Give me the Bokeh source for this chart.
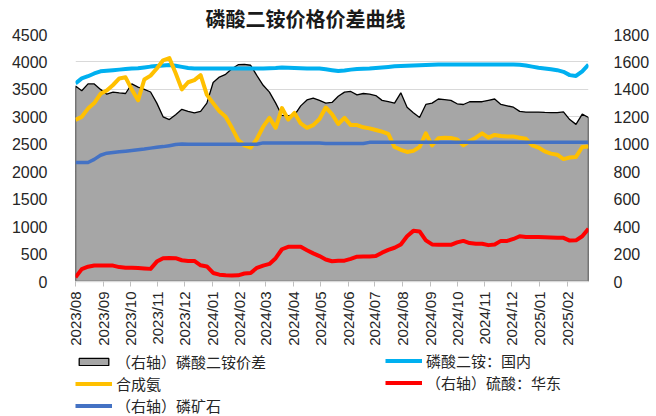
import math
import pandas as pd
from bokeh.plotting import figure
from bokeh.layouts import column
from bokeh.models import Range1d, LinearAxis, FixedTicker, Legend, LegendItem
from bokeh.embed import file_html
from bokeh.resources import INLINE

# ---------------- data ----------------
start_date = pd.Timestamp("2023-08-01")
week_dates = pd.date_range(start_date, periods=83, freq="7D")
month_starts = pd.date_range("2023-08-01", "2025-02-01", freq="MS")
month_labels = [d.strftime("%Y/%m") for d in month_starts]

left_ticks = [0, 500, 1000, 1500, 2000, 2500, 3000, 3500, 4000, 4500]
right_ticks = [0, 200, 400, 600, 800, 1000, 1200, 1400, 1600, 1800]

# 磷酸二铵：国内 (left axis)
dap_domestic = [3610, 3700, 3740, 3790, 3830, 3840, 3850, 3860, 3870, 3880,
                3885, 3900, 3915, 3925, 3935, 3945, 3930, 3910, 3890, 3880,
                3880, 3880, 3880, 3880, 3880, 3880, 3880, 3880, 3880, 3880,
                3880, 3885, 3890, 3900, 3895, 3890, 3885, 3880, 3880, 3880,
                3865, 3850, 3836, 3845, 3860, 3870, 3875, 3880, 3890, 3900,
                3910, 3920, 3925, 3930, 3935, 3940, 3945, 3950, 3955, 3955,
                3955, 3955, 3955, 3955, 3955, 3955, 3955, 3955, 3955, 3955,
                3955, 3950, 3935, 3915, 3895, 3880, 3865, 3850, 3820, 3760,
                3745, 3830, 3950]

# 合成氨 (left axis)
ammonia = [2945, 3000, 3150, 3250, 3420, 3480, 3580, 3700, 3720, 3500,
           3300, 3680, 3750, 3880, 4030, 4070, 3800, 3500, 3630, 3670,
           3760, 3400, 3250, 3100, 3000, 2800, 2580, 2480, 2440, 2600,
           2820, 2980, 2800, 3160, 2950, 3070, 2880, 2800, 2850, 2960,
           3170, 3050, 2870, 2980, 2850, 2850, 2810, 2790, 2760, 2730,
           2690, 2450, 2400, 2360, 2380, 2450, 2700, 2480, 2610, 2620,
           2615, 2590, 2480, 2560, 2620, 2700, 2620, 2670, 2650, 2640,
           2640, 2620, 2600, 2480, 2440, 2370, 2330, 2310, 2230, 2260,
           2270, 2450, 2460]

# （右轴）磷酸二铵价差 (right axis)
dap_spread = [1425, 1390, 1440, 1440, 1400, 1365, 1380, 1374, 1370, 1440,
              1417, 1400, 1381, 1300, 1200, 1180, 1215, 1255, 1240, 1229,
              1240, 1300, 1450, 1490, 1510, 1550, 1580, 1583, 1576, 1500,
              1430, 1380, 1300, 1210, 1208, 1212, 1280, 1323, 1337, 1320,
              1300, 1305, 1350, 1380, 1385, 1360, 1370, 1365, 1355, 1320,
              1310, 1300, 1375, 1270, 1230, 1195, 1290, 1300, 1330, 1325,
              1320, 1295, 1290, 1310, 1310, 1310, 1320, 1330, 1290, 1280,
              1270, 1240, 1235, 1235, 1235, 1232, 1230, 1230, 1236, 1180,
              1145, 1220, 1195]

# （右轴）硫酸：华东 (right axis)
sulfuric_acid = [30, 90, 108, 116, 116, 116, 116, 105, 100, 100,
                 98, 95, 92, 145, 170, 172, 170, 155, 150, 150,
                 118, 110, 62, 50, 45, 43, 45, 58, 62, 100,
                 116, 128, 170, 235, 253, 253, 253, 228, 205, 185,
                 160, 148, 152, 152, 165, 181, 182, 183, 185, 210,
                 230, 246, 270, 330, 369, 365, 300, 270, 267, 267,
                 267, 285, 296, 280, 275, 275, 265, 270, 296, 296,
                 310, 330, 325, 325, 325, 322, 320, 318, 318, 298,
                 300, 330, 385]

# （右轴）磷矿石 (right axis)
phosphate_rock = [867, 867, 867, 890, 920, 935, 940, 945, 950, 955,
                  960, 965, 972, 978, 983, 990, 998, 1002, 1000, 1000,
                  1000, 1000, 1000, 1000, 1000, 1000, 1000, 1000, 1000, 1000,
                  1010, 1010, 1010, 1010, 1010, 1010, 1010, 1010, 1010, 1010,
                  1005, 1005, 1005, 1005, 1005, 1005, 1005, 1014, 1014, 1014,
                  1014, 1014, 1014, 1014, 1014, 1014, 1014, 1014, 1014, 1014,
                  1014, 1014, 1014, 1014, 1014, 1014, 1014, 1014, 1014, 1014,
                  1014, 1014, 1014, 1014, 1014, 1014, 1014, 1014, 1014, 1014,
                  1014, 1014, 1014]

legend_labels = ["（右轴）磷酸二铵价差", "合成氨", "（右轴）磷矿石",
                 "磷酸二铵：国内", "（右轴）硫酸：华东"]

# ---------------- style ----------------
CJK = "Noto Sans CJK SC"
NUM = "Liberation Sans"
TXT = "#262626"
C_SPREAD, C_DAP, C_NH3, C_H2SO4, C_ROCK = "#a6a6a6", "#00b0f0", "#ffc000", "#ff0000", "#4472c4"

xs = [int((d - start_date).days) for d in week_dates]
month_pos = [int((d - start_date).days) for d in month_starts]
area_x = [xs[0]] + xs + [xs[-1]]
area_y = [0] + dap_spread + [0]

# ---------------- main chart ----------------
p = figure(width=656, height=348, output_backend="svg", toolbar_location=None,
           x_range=Range1d(0, xs[-1]), y_range=Range1d(0, 4500),
           min_border_left=75, min_border_right=68, min_border_top=34,
           min_border_bottom=65)
p.extra_y_ranges = {"right": Range1d(0, 1800)}
p.outline_line_color = None
p.background_fill_color = "white"

p.title.text = "磷酸二铵价格价差曲线"
p.title.align = "left"
p.title.offset = 130
p.title.text_font = CJK
p.title.text_font_size = "20px"
p.title.text_font_style = "bold"
p.title.text_color = "#1a1a1a"
p.title.standoff = 3

p.xaxis.ticker = FixedTicker(ticks=month_pos)
p.xaxis.major_label_overrides = {m: lab for m, lab in zip(month_pos, month_labels)}
p.xaxis.major_label_orientation = math.pi / 2
p.xaxis.major_label_text_font = NUM
p.xaxis.major_label_text_font_size = "15px"
p.xaxis.major_label_text_color = TXT
p.xaxis.axis_line_color = "#d9d9d9"
p.xaxis.axis_line_width = 1.5
p.xaxis.major_tick_line_color = "#bfbfbf"
p.xaxis.major_tick_out = 5
p.xaxis.major_tick_in = 0
p.xaxis.minor_tick_line_color = None
p.xaxis.major_label_standoff = 5

p.yaxis.ticker = FixedTicker(ticks=left_ticks)
p.yaxis.axis_line_color = None
p.yaxis.major_tick_line_color = None
p.yaxis.minor_tick_line_color = None
p.yaxis.major_label_standoff = 22
p.yaxis.major_label_text_font = NUM
p.yaxis.major_label_text_font_size = "16px"
p.yaxis.major_label_text_color = TXT

raxis = LinearAxis(y_range_name="right", ticker=FixedTicker(ticks=right_ticks))
raxis.axis_line_color = None
raxis.major_tick_line_color = None
raxis.minor_tick_line_color = None
raxis.major_label_standoff = 19
raxis.major_label_text_font = NUM
raxis.major_label_text_font_size = "16px"
raxis.major_label_text_color = TXT
p.add_layout(raxis, "right")

p.xgrid.grid_line_color = None
p.ygrid.grid_line_color = "#d9d9d9"
p.ygrid.grid_line_width = 1

spread_style = dict(fill_color=C_SPREAD, line_color="black", line_width=1.3)
p.patch(area_x, area_y, y_range_name="right", **spread_style)
p.line(xs, dap_domestic, line_color=C_DAP, line_width=4, line_join="round")
p.line(xs, ammonia, line_color=C_NH3, line_width=4, line_join="round")
p.line(xs, sulfuric_acid, y_range_name="right", line_color=C_H2SO4,
       line_width=4, line_join="round")
p.line(xs, phosphate_rock, y_range_name="right", line_color=C_ROCK,
       line_width=3.5, line_join="round")

# ---------------- legend strip (hidden copies of the series feed the keys) ----------------
q = figure(width=656, height=68, output_backend="svg", toolbar_location=None,
           x_range=Range1d(0, 1), y_range=Range1d(0, 1),
           min_border_left=0, min_border_right=0, min_border_top=0, min_border_bottom=0)
q.axis.visible = False
q.grid.visible = False
q.outline_line_color = None

k_spread = q.patch(area_x, area_y, visible=False, **spread_style)
k_nh3 = q.line(xs, ammonia, line_color=C_NH3, line_width=4, visible=False)
k_rock = q.line(xs, phosphate_rock, line_color=C_ROCK, line_width=4, visible=False)
k_dap = q.line(xs, dap_domestic, line_color=C_DAP, line_width=4, visible=False)
k_h2so4 = q.line(xs, sulfuric_acid, line_color=C_H2SO4, line_width=4, visible=False)


def make_legend(items, loc):
    lg = Legend(items=items, location=loc, orientation="vertical")
    lg.label_text_font = CJK
    lg.label_text_font_size = "15px"
    lg.label_text_color = TXT
    lg.glyph_width = 37
    lg.glyph_height = 9
    lg.label_height = 18
    lg.label_standoff = 4
    lg.spacing = 1
    lg.padding = 0
    lg.margin = 0
    lg.background_fill_alpha = 0
    lg.border_line_color = None
    return lg


leg_left = make_legend([
    LegendItem(label=legend_labels[0], renderers=[k_spread]),
    LegendItem(label=legend_labels[1], renderers=[k_nh3]),
    LegendItem(label=legend_labels[2], renderers=[k_rock]),
], (0, 0))
leg_right = make_legend([
    LegendItem(label=legend_labels[3], renderers=[k_dap]),
    LegendItem(label=legend_labels[4], renderers=[k_h2so4]),
], (310, 23))
q.add_layout(leg_left, "center")
q.add_layout(leg_right, "center")

layout = column(p, q, spacing=0)
open("out.html", "w").write(file_html(layout, INLINE))
